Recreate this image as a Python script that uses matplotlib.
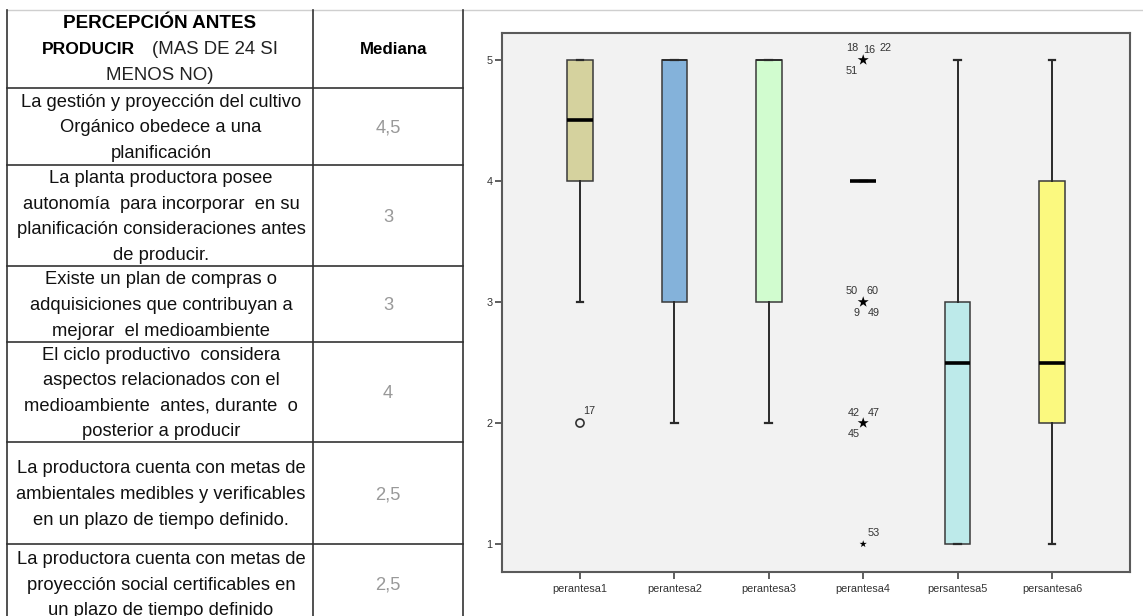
import matplotlib
matplotlib.use("Agg")
import matplotlib.pyplot as plt

plt.rcParams['font.family'] = ['Liberation Sans', 'DejaVu Sans']

# ---------------- data ----------------
categories = ['perantesa1', 'perantesa2', 'perantesa3', 'perantesa4', 'persantesa5', 'persantesa6']
q1 = [4, 3, 3, 4, 1, 2]
medians = [4.5, 5, 5, 4, 2.5, 2.5]
q3 = [5, 5, 5, 4, 3, 4]
whisker_low = [3, 2, 2, 4, 1, 1]
whisker_high = [5, 5, 5, 4, 5, 5]
box_colors = ['#D5D29E', '#84B2DA', '#D1FCCF', '#F2F2F2', '#BDEAEA', '#FBF97F']

# outliers (circle) : category index (1-based), value, case labels
outlier_cat = [1]
outlier_val = [2]
outlier_lab = [['17']]
# extremes (star)
extreme_cat = [4, 4, 4, 4]
extreme_val = [5, 3, 2, 1]
extreme_lab = [['18', '16', '22', '51'], ['50', '60', '9', '49'], ['42', '47', '45'], ['53']]

yticks = [1, 2, 3, 4, 5]

table_header = ['PERCEPCIÓN ANTES', 'PRODUCIR', '(MAS DE 24 SI', 'MENOS NO)']
table_col2 = 'Mediana'
table_items = [
    ['La gestión y proyección del cultivo', 'Orgánico obedece a una', 'planificación'],
    ['La planta productora posee', 'autonomía  para incorporar  en su',
     'planificación consideraciones antes', 'de producir.'],
    ['Existe un plan de compras o', 'adquisiciones que contribuyan a', 'mejorar  el medioambiente'],
    ['El ciclo productivo  considera', 'aspectos relacionados con el',
     'medioambiente  antes, durante  o', 'posterior a producir'],
    ['La productora cuenta con metas de', 'ambientales medibles y verificables',
     'en un plazo de tiempo definido.'],
    ['La productora cuenta con metas de', 'proyección social certificables en',
     'un plazo de tiempo definido'],
]
table_values = ['4,5', '3', '3', '4', '2,5', '2,5']

# ---------------- figure ----------------
W, H = 1143, 616
fig = plt.figure(figsize=(W / 100, H / 100), dpi=100)
fig.patch.set_facecolor('white')

# table layer in pixel coordinates
tab = fig.add_axes([0, 0, 1, 1])
tab.set_xlim(0, W)
tab.set_ylim(H, 0)
tab.axis('off')

row_lines = [88, 165, 266, 342, 442, 544]
row_bottoms = row_lines[1:] + [630]
xl, xm, xr = 7, 313, 463
tab.plot([xl, W], [10, 10], color='#cfcfcf', lw=1)
tab.plot([xl, xl], [10, H], color='#333333', lw=1.2)
tab.plot([xm, xm], [10, H], color='#333333', lw=1.2)
tab.plot([xr, xr], [10, H], color='#333333', lw=1.2)
for y in row_lines:
    tab.plot([xl, xr], [y, y], color='#333333', lw=1.2)

fs = 13.2
c1 = (xl + xm) / 2 + 1
c2 = (xm + xr) / 2
tab.text(160, 23, table_header[0], ha='center', va='center', fontsize=13.6, fontweight='bold')
tab.text(42, 49, table_header[1], ha='left', va='center', fontsize=12.6, fontweight='bold')
tab.text(152, 49, table_header[2], ha='left', va='center', fontsize=fs + 0.2, color='#222222')
tab.text(160, 76, table_header[3], ha='center', va='center', fontsize=fs + 0.2, color='#222222')
tab.text(c2 + 6, 49, table_col2, ha='center', va='center', fontsize=12.2, fontweight='bold')

spacing = 25.6
for i, lines in enumerate(table_items):
    top, bot = row_lines[i], row_bottoms[i]
    center = (top + bot) / 2 + 1.5
    if i == 5:
        center = 585
    n = len(lines)
    for k, line in enumerate(lines):
        y = center + (k - (n - 1) / 2) * spacing
        tab.text(c1, y, line, ha='center', va='center', fontsize=fs, color='#111111')
    tab.text(c2, center, table_values[i], ha='center', va='center', fontsize=fs, color='#999999')

# ---------------- boxplot ----------------
px_l, px_r, px_t, px_b = 502, 1130, 33, 572
ax = fig.add_axes([px_l / W, 1 - px_b / H, (px_r - px_l) / W, (px_b - px_t) / H])
ax.set_facecolor('#F2F2F2')

positions = list(range(1, len(categories) + 1))
stats = []
for i in range(len(categories)):
    stats.append(dict(med=medians[i], q1=q1[i], q3=q3[i],
                      whislo=whisker_low[i], whishi=whisker_high[i], fliers=[]))

bp = ax.bxp(stats, positions=positions, widths=0.27, patch_artist=True, showfliers=False,
            capwidths=0.07,
            boxprops=dict(edgecolor='#3a3a3a', linewidth=1.1),
            whiskerprops=dict(color='#2a2a2a', linewidth=1.4),
            capprops=dict(color='#2a2a2a', linewidth=1.6),
            medianprops=dict(color='black', linewidth=2.6, solid_capstyle='butt'))
for patch, col in zip(bp['boxes'], box_colors):
    patch.set_facecolor(col)
bp['boxes'][3].set_edgecolor('none')
for i, ml in enumerate(bp['medians']):
    if medians[i] == q3[i] and q1[i] != q3[i]:
        ml.set_linewidth(1.3)
        ml.set_color('#2a2a2a')

# outliers
ax.scatter(outlier_cat, outlier_val, marker='o', s=34, facecolor='none',
           edgecolor='#333333', linewidths=1.2, zorder=5)
for c, v, labs in zip(outlier_cat, outlier_val, outlier_lab):
    ax.annotate(labs[0], (c, v), xytext=(7, 8.5), textcoords='offset points',
                fontsize=7.8, color='#333333', ha='center', va='center')

# extremes
sizes = [70 if len(l) > 1 else 30 for l in extreme_lab]
ax.scatter(extreme_cat, extreme_val, marker='*', s=sizes, color='black', zorder=5, linewidths=0)
offsets_multi = [(-8, 8.5), (4.5, 7.5), (16, 8.5), (-8, -8)]
offsets_four = [(-8, 8), (7, 8), (-5, -8), (7.5, -8)]
offsets_three = [(-7, 7.5), (7.5, 7.5), (-7, -8)]
offsets_one = [(7.5, 8)]
for c, v, labs in zip(extreme_cat, extreme_val, extreme_lab):
    if v == 5:
        offs = offsets_multi
    elif len(labs) == 4:
        offs = offsets_four
    elif len(labs) == 3:
        offs = offsets_three
    else:
        offs = offsets_one
    for lab, off in zip(labs, offs):
        ax.annotate(lab, (c, v), xytext=off, textcoords='offset points',
                    fontsize=7.8, color='#333333', ha='center', va='center')

ax.set_xlim(0.174, 6.826)
ax.set_ylim(0.769, 5.223)
ax.set_yticks(yticks)
ax.set_yticklabels([str(t) for t in yticks])
ax.set_xticks(positions)
ax.set_xticklabels(categories)
ax.tick_params(axis='both', labelsize=7.8, colors='#333333', length=5, width=1.1, direction='out')
ax.tick_params(axis='y', pad=2)
ax.tick_params(axis='x', pad=4)
for s in ax.spines.values():
    s.set_color('#5a5a5a')
    s.set_linewidth(1.5)

fig.savefig('out.png', dpi=100, facecolor='white')
